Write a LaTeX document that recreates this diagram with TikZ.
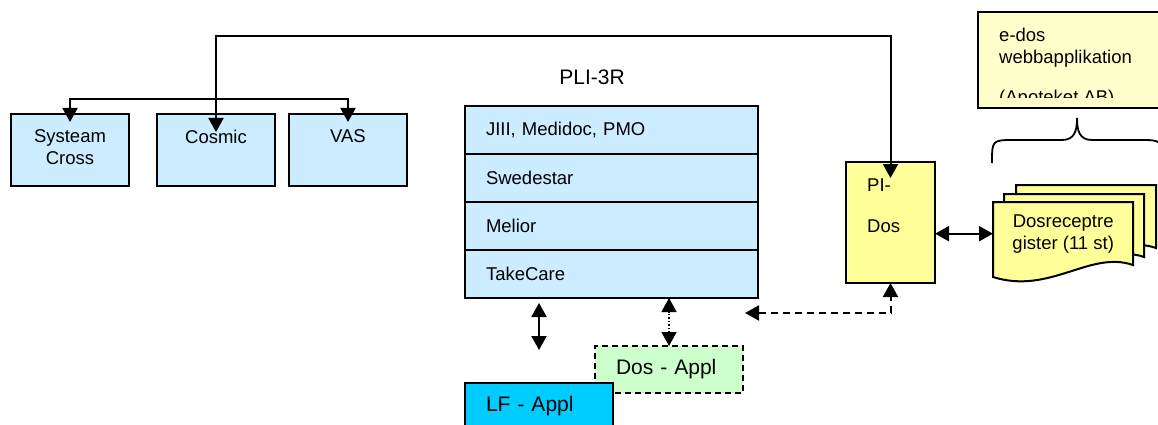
\documentclass[tikz,border=0pt]{standalone}
\usepackage{fontspec}
\setmainfont{Liberation Sans}
\usetikzlibrary{positioning,arrows.meta}

\definecolor{sysblue}{RGB}{204,236,255}
\definecolor{dosyellow}{RGB}{255,255,153}
\definecolor{webyellow}{RGB}{255,255,204}
\definecolor{applgreen}{RGB}{204,255,204}
\definecolor{lfcyan}{RGB}{0,204,255}

\begin{document}
\begin{tikzpicture}[x=1pt, y=-1pt,
	font=\fontsize{18.5}{22}\selectfont,
	big/.style={font=\fontsize{21}{25}\selectfont},
	box/.style={draw, line width=2pt, outer sep=0pt, inner sep=0pt, anchor=north west},
	sysbox/.style={box, fill=sysblue, minimum width=118pt, minimum height=72pt},
	row/.style={box, fill=sysblue, minimum width=293pt, minimum height=48pt, text width=251pt, inner xsep=21pt, align=left},
	applbox/.style={box, minimum height=47pt, text width=106pt, inner xsep=21pt, align=left},
	page/.style={draw, line width=2pt, fill=dosyellow},
	conn/.style={line width=2pt, {Triangle[width=15pt,length=14pt]}-{Triangle[width=15pt,length=14pt]}},
	toplabel/.style={anchor=north, inner sep=0pt, yshift=-15.5pt, align=center}
	]
	\useasboundingbox (0,0) rectangle (1158,425);
	\clip (0,0) rectangle (1158,425);

	\node[sysbox, label={[toplabel]north:Systeam\\Cross}] (systeam) at (11,114) {};
	\node[sysbox, label={[toplabel]north:Cosmic}] (cosmic) at (157,114) {};
	\node[sysbox, label={[toplabel]north:VAS}] (vas) at (289,114) {};

	\node[big] (plititle) at (592,77) {PLI-3R};
	\node[row] (jiii) at (465,106) {JIII, Medidoc, PMO};
	\node[row, below=0pt of jiii] (swede) {Swedestar};
	\node[row, below=0pt of swede] (melior) {Melior};
	\node[row, below=0pt of melior] (takecare) {TakeCare};

	\node[applbox, big, dashed, dash pattern=on 6pt off 4pt, fill=applgreen, minimum width=148pt] (dosappl) at (595,346) {Dos - Appl};
	\node[applbox, big, fill=lfcyan, minimum height=46pt] (lfappl) at (465,383) {LF - Appl};

	\node[box, fill=dosyellow, minimum width=89pt, minimum height=121pt,
		label={[anchor=north west, inner sep=0pt, align=left, xshift=21pt, yshift=-17pt]north west:PI-\\[19pt]Dos}] (pidos) at (846,162) {};

	\node[box, fill=webyellow, minimum width=200pt, minimum height=96pt] (edos) at (978,12) {};
	\begin{scope}
		\clip (edos.north west) rectangle ([yshift=10pt]edos.south east);
		\node[anchor=north west, inner sep=0pt, align=left] (edostext) at (999,27.5) {e-dos\\webbapplikation\\[18pt](Apoteket AB)};
	\end{scope}

	\draw[line width=1.8pt] (992,163) .. controls (992,140) .. (1015,140) -- (1062,140) .. controls (1075,140) and (1077,130) .. (1077,118)
		.. controls (1077,130) and (1079,140) .. (1092,140) -- (1139,140) .. controls (1162,140) .. (1162,163);

	\foreach \dx/\dy in {23/-17, 11/-8, 0/0}
		\filldraw[page, shift={(\dx,\dy)}] (993,202) -- (1133,202) -- (1133,265) .. controls (1090,250) and (1050,295) .. (993,277) -- cycle;
	\node[anchor=north west, inner sep=0pt, minimum width=140pt, minimum height=63pt, align=center] (dosreg) at (993,202) {Dosreceptre\\gister (11 st)};

	\coordinate (lftop) at (539,303);
	\coordinate (lfbot) at (539,350);
	\coordinate (dashend) at (745,313);

	\draw[conn, shorten <=-18pt, shorten >=-16pt] (cosmic.north) -- ++(0,-78) -| (pidos.north);
	\draw[conn, shorten <=-8pt, shorten >=-8pt] (systeam.north) -- ++(0,-15) -| (vas.north);
	\draw[conn] (pidos.east |- dosreg.west) -- (dosreg.west);
	\draw[conn] (lftop) -- (lfbot);
	\draw[conn, line width=1.4pt, dotted] (dosappl.north) -- (dosappl.north |- takecare.south);
	\draw[conn, dashed, dash pattern=on 7pt off 5pt] (dashend) -| (pidos.south);
\end{tikzpicture}
\end{document}
